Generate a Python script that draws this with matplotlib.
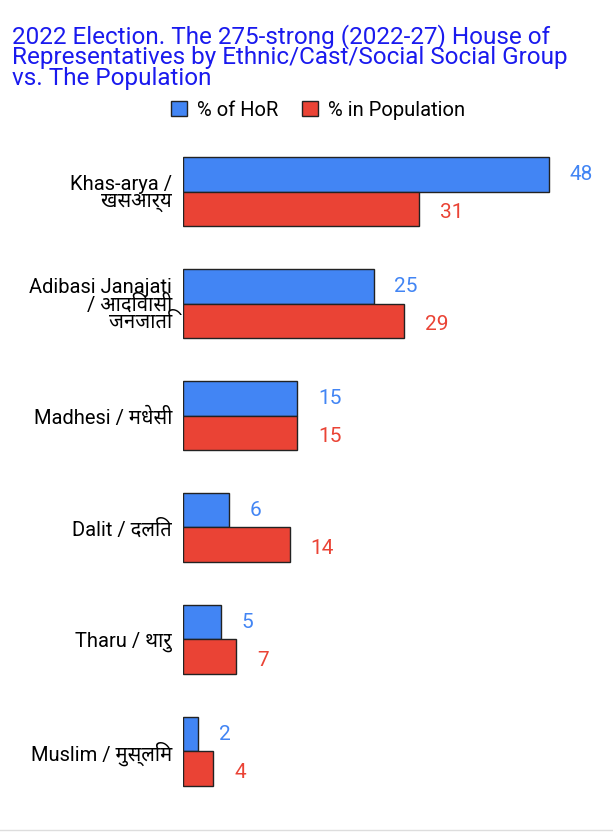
import matplotlib
matplotlib.use("Agg")
import matplotlib.pyplot as plt
import numpy as np

categories = ["Khas-arya /\nखसआर्य", "Adibasi Janajati\n/ आदिवासी\nजनजाति", "Madhesi / मधेसी",
              "Dalit / दलित", "Tharu / थारु", "Muslim / मुस्लिम"]
hor = [48, 25, 15, 6, 5, 2]
pop = [31, 29, 15, 14, 7, 4]
series = ["% of HoR", "% in Population"]
title = "2022 Election. The 275-strong (2022-27) House of\nRepresentatives by Ethnic/Cast/Social Social Group\nvs. The Population"

fam = ['Roboto', 'Noto Sans', 'DejaVu Sans']
plt.rcParams['font.family'] = fam
blue, red = "#4285f4", "#ea4335"

fig = plt.figure(figsize=(6.13, 8.36), dpi=100)
ax = fig.add_axes([183/613, 1-813/836, (600-183)/613, (813-130)/836])
y = np.arange(len(categories))
h = 0.31
ax.barh(y - h/2, hor, height=h, color=blue, edgecolor="#222222", linewidth=1, label=series[0])
ax.barh(y + h/2, pop, height=h, color=red, edgecolor="#222222", linewidth=1, label=series[1])
for i in range(len(categories)):
    ax.text(hor[i] + 2.7, y[i] - h/2, str(hor[i]), color=blue, va="center", ha="left", fontsize=15)
    ax.text(pop[i] + 2.7, y[i] + h/2 + 0.03, str(pop[i]), color=red, va="center", ha="left", fontsize=15)
ax.set_yticks(y)
ax.set_yticklabels(categories, fontsize=14.5, linespacing=0.85)
ax.tick_params(axis="y", length=0, pad=8)
ax.set_xticks([])
ax.set_xlim(0, 54.7)
ax.set_ylim(5.55, -0.55)
for s in ax.spines.values():
    s.set_visible(False)
fig.text(12/613, 1-24/836, title, color="#1a1aee", fontsize=17.5, va="top", ha="left", linespacing=0.85)
fig.legend(loc="center", bbox_to_anchor=(318/613, 1-110/836), ncol=2, frameon=False,
           fontsize=14.5, handlelength=0.8, handleheight=0.8, columnspacing=1.2, handletextpad=0.5)
fig.add_artist(plt.Line2D([0, 1], [1-830/836]*2, color="#dddddd", lw=1))
fig.savefig("out.png", dpi=100, facecolor="white")
